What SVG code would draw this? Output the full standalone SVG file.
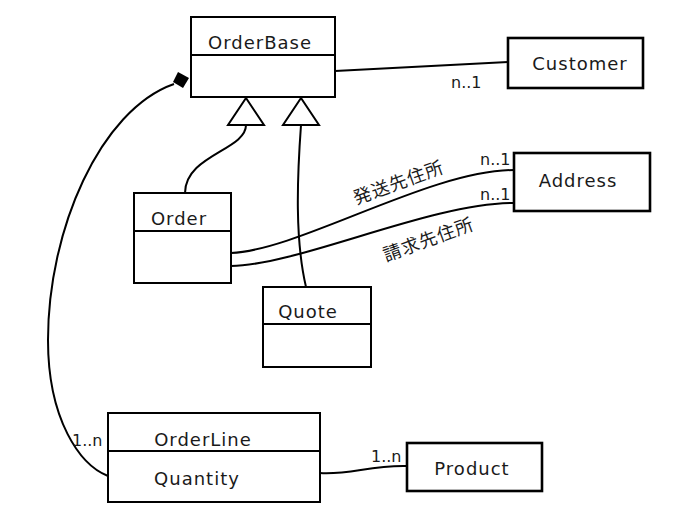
<svg xmlns="http://www.w3.org/2000/svg" width="686" height="532" viewBox="0 0 686 532">
<style>
.box{fill:#fff;stroke:#000;stroke-width:2}
.bx{fill:#fff;stroke:#000;stroke-width:2.6}
.ln{fill:none;stroke:#000;stroke-width:2}
.t{font-family:"DejaVu Sans","Liberation Sans",sans-serif;font-size:18px;letter-spacing:1px;fill:#1a1a1a;text-anchor:middle}
.m{font-family:"DejaVu Sans","Liberation Sans",sans-serif;font-size:16px;fill:#1a1a1a}
.j{font-family:"Noto Sans CJK JP","Noto Sans CJK SC",sans-serif;font-size:18px;letter-spacing:1px;fill:#1a1a1a;text-anchor:middle}
.tri{fill:#fff;stroke:#000;stroke-width:2}
</style>
<rect width="686" height="532" fill="#fff"/>
<g id="connectors">
<path class="ln" d="M335,71 L508,62"/>
<path class="ln" d="M246,125 C246,150 185,155 185,193"/>
<path class="ln" d="M301,125 C297,180 295,240 306,287"/>
<path class="ln" d="M231,253 C300,250 430,170 514,170"/>
<path class="ln" d="M231,266 C300,265 430,203 514,203"/>
<path class="ln" d="M174,84 C100,110 48,230 48,340 C48,420 80,465 108,476"/>
<path class="ln" d="M320,473 C350,475 370,465 407,466"/>
<polygon class="tri" points="246,98 228,125 264,125"/>
<polygon class="tri" points="301,98 283,125 319,125"/>
<polygon points="178,72 189,78 183,88 173,82" fill="#000"/>
<text class="m" x="451" y="88">n..1</text>
<text class="m" x="480" y="165">n..1</text>
<text class="m" x="480" y="200">n..1</text>
<text class="m" x="72" y="446">1..n</text>
<text class="m" x="371" y="462">1..n</text>
<text class="j" transform="translate(398,181) rotate(-20)" dominant-baseline="central">発送先住所</text>
<text class="j" transform="translate(428,238) rotate(-20)" dominant-baseline="central">請求先住所</text>
</g>
<g id="OrderBase">
<rect class="box" x="191" y="17" width="144" height="80"/>
<line class="ln" x1="191" y1="55" x2="335" y2="55"/>
<text class="t" x="260" y="49">OrderBase</text>
</g>
<g id="Customer">
<rect class="bx" x="508" y="38" width="135" height="50"/>
<text class="t" x="580" y="70">Customer</text>
</g>
<g id="Address">
<rect class="bx" x="514" y="153" width="136" height="58"/>
<text class="t" x="578" y="187">Address</text>
</g>
<g id="Order">
<rect class="box" x="134" y="193" width="97" height="90"/>
<line class="ln" x1="134" y1="231" x2="231" y2="231"/>
<text class="t" x="179" y="225">Order</text>
</g>
<g id="Quote">
<rect class="box" x="263" y="287" width="108" height="80"/>
<line class="ln" x1="263" y1="324" x2="371" y2="324"/>
<text class="t" x="308" y="318">Quote</text>
</g>
<g id="OrderLine">
<rect class="box" x="108" y="413" width="212" height="89"/>
<line class="ln" x1="108" y1="451" x2="320" y2="451"/>
<text class="t" x="203" y="446">OrderLine</text>
<text class="t" x="197" y="485">Quantity</text>
</g>
<g id="Product">
<rect class="bx" x="407" y="443" width="135" height="48"/>
<text class="t" x="472" y="475">Product</text>
</g>
</svg>
